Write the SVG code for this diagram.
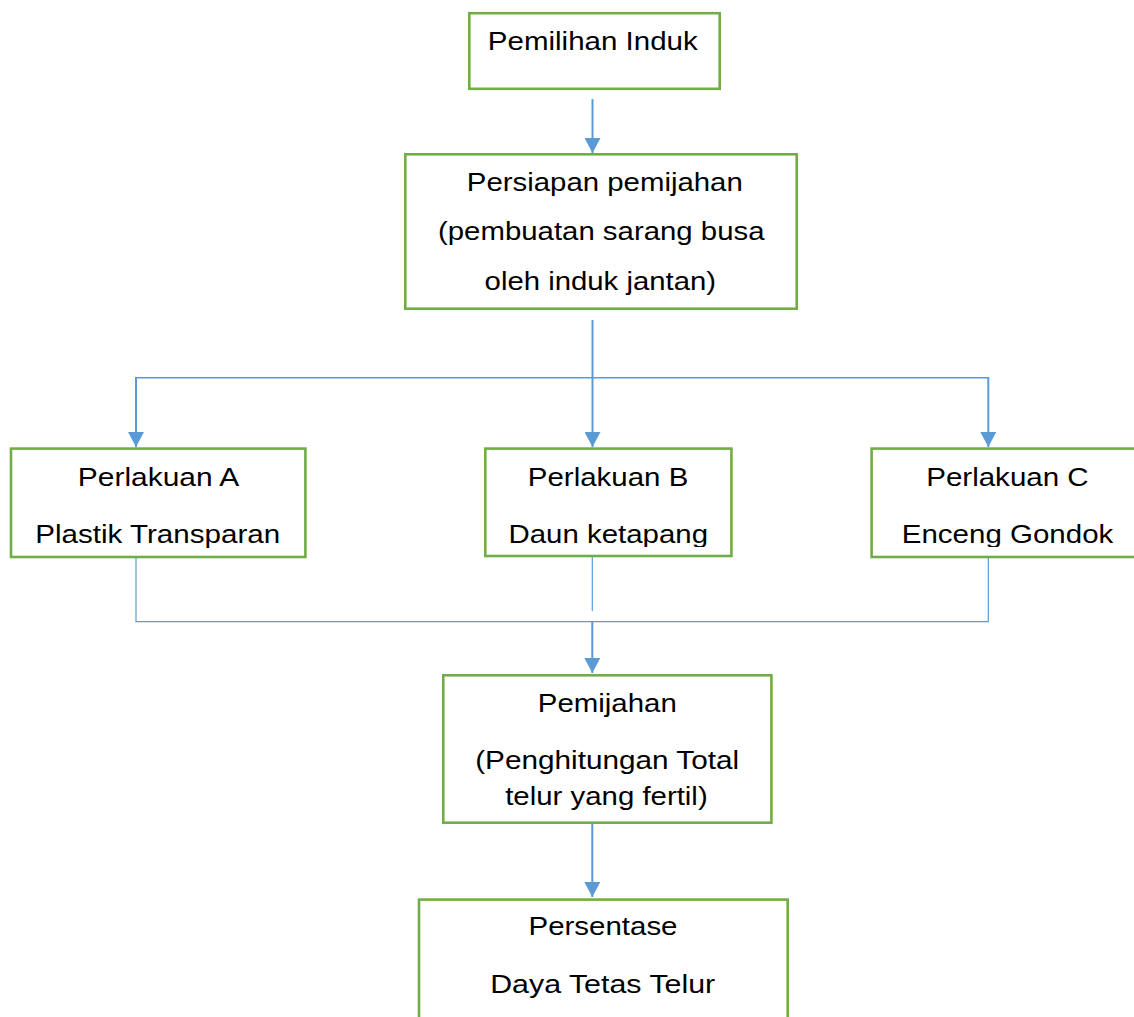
<svg xmlns="http://www.w3.org/2000/svg" width="1134" height="1017" viewBox="0 0 1134 1017">
  <style>
    .box { fill: #ffffff; stroke: #70AD47; stroke-width: 2.6; }
    .lbl { font-family: "Liberation Sans", Arial, sans-serif; font-size: 26px; fill: #000000; }
    .arr { stroke: #5B9BD5; stroke-width: 2; fill: none; marker-end: url(#ah); }
    .thin { stroke: #5B9BD5; stroke-width: 1.2; fill: none; }
    .mid { stroke: #5B9BD5; stroke-width: 1.5; fill: none; }
  </style>
  <defs>
    <marker id="ah" markerUnits="userSpaceOnUse" markerWidth="16" markerHeight="16" viewBox="0 -8 15 16" refX="15" refY="0" orient="auto">
      <path d="M0,-8 L15,0 L0,8 Z" fill="#5B9BD5"/>
    </marker>
    <clipPath id="clipBC">
      <rect x="0" y="440" width="1134" height="107"/>
    </clipPath>
  </defs>
  <rect x="0" y="0" width="1134" height="1017" fill="#ffffff"/>

  <g id="connectors">
    <line class="arr" x1="592.5" y1="99" x2="592.5" y2="153"/>
    <line class="arr" x1="592.5" y1="320" x2="592.5" y2="447"/>
    <line class="mid" x1="136" y1="377.7" x2="988.3" y2="377.7"/>
    <line class="arr" x1="136" y1="377" x2="136" y2="447"/>
    <line class="arr" x1="988.3" y1="377" x2="988.3" y2="447"/>
    <line class="thin" x1="136" y1="558" x2="136" y2="621.7"/>
    <line class="thin" x1="988.3" y1="558" x2="988.3" y2="621.7"/>
    <line class="thin" x1="592.3" y1="557" x2="592.3" y2="611"/>
    <line class="thin" x1="135.4" y1="621.7" x2="988.9" y2="621.7"/>
    <line class="arr" x1="592.3" y1="621.7" x2="592.3" y2="673"/>
    <line class="arr" x1="592.3" y1="824" x2="592.3" y2="897"/>
  </g>

  <g id="node-pemilihan">
    <rect class="box" x="469.3" y="13.2" width="250.4" height="75.6"/>
    <text class="lbl" x="487.8" y="50" textLength="210" lengthAdjust="spacingAndGlyphs">Pemilihan Induk</text>
  </g>

  <g id="node-persiapan">
    <rect class="box" x="405.3" y="154.3" width="391.4" height="154.4"/>
    <text class="lbl" x="466.8" y="190.7" textLength="276" lengthAdjust="spacingAndGlyphs">Persiapan pemijahan</text>
    <text class="lbl" x="438" y="240" textLength="326.5" lengthAdjust="spacingAndGlyphs">(pembuatan sarang busa</text>
    <text class="lbl" x="484.6" y="290" textLength="231.5" lengthAdjust="spacingAndGlyphs">oleh induk jantan)</text>
  </g>

  <g id="node-a">
    <rect class="box" x="11" y="448.6" width="294.4" height="108.4"/>
    <text class="lbl" x="77.8" y="485.8" textLength="161.5" lengthAdjust="spacingAndGlyphs">Perlakuan A</text>
    <text class="lbl" x="35.2" y="543.3" textLength="245" lengthAdjust="spacingAndGlyphs">Plastik Transparan</text>
  </g>

  <g id="node-b">
    <rect class="box" x="485.3" y="448.6" width="246.1" height="107.4"/>
    <g clip-path="url(#clipBC)">
      <text class="lbl" x="527.8" y="485.8" textLength="160.5" lengthAdjust="spacingAndGlyphs">Perlakuan B</text>
      <text class="lbl" x="508.5" y="543.3" textLength="199.5" lengthAdjust="spacingAndGlyphs">Daun ketapang</text>
    </g>
  </g>

  <g id="node-c">
    <rect class="box" x="871.6" y="448.6" width="270" height="108.4"/>
    <g clip-path="url(#clipBC)">
      <text class="lbl" x="926.2" y="485.8" textLength="162.5" lengthAdjust="spacingAndGlyphs">Perlakuan C</text>
      <text class="lbl" x="901.8" y="543.3" textLength="211.5" lengthAdjust="spacingAndGlyphs">Enceng Gondok</text>
    </g>
  </g>

  <g id="node-pemijahan">
    <rect class="box" x="443.3" y="675.3" width="328.1" height="147.4"/>
    <text class="lbl" x="537.8" y="711.7" textLength="139" lengthAdjust="spacingAndGlyphs">Pemijahan</text>
    <text class="lbl" x="475.2" y="769.3" textLength="264" lengthAdjust="spacingAndGlyphs">(Penghitungan Total</text>
    <text class="lbl" x="505.2" y="805" textLength="202.5" lengthAdjust="spacingAndGlyphs">telur yang fertil)</text>
  </g>

  <g id="node-persentase">
    <rect class="box" x="419" y="899.6" width="368.7" height="200"/>
    <text class="lbl" x="528.5" y="935" textLength="149" lengthAdjust="spacingAndGlyphs">Persentase</text>
    <text class="lbl" x="490.2" y="993.3" textLength="225" lengthAdjust="spacingAndGlyphs">Daya Tetas Telur</text>
  </g>
</svg>
